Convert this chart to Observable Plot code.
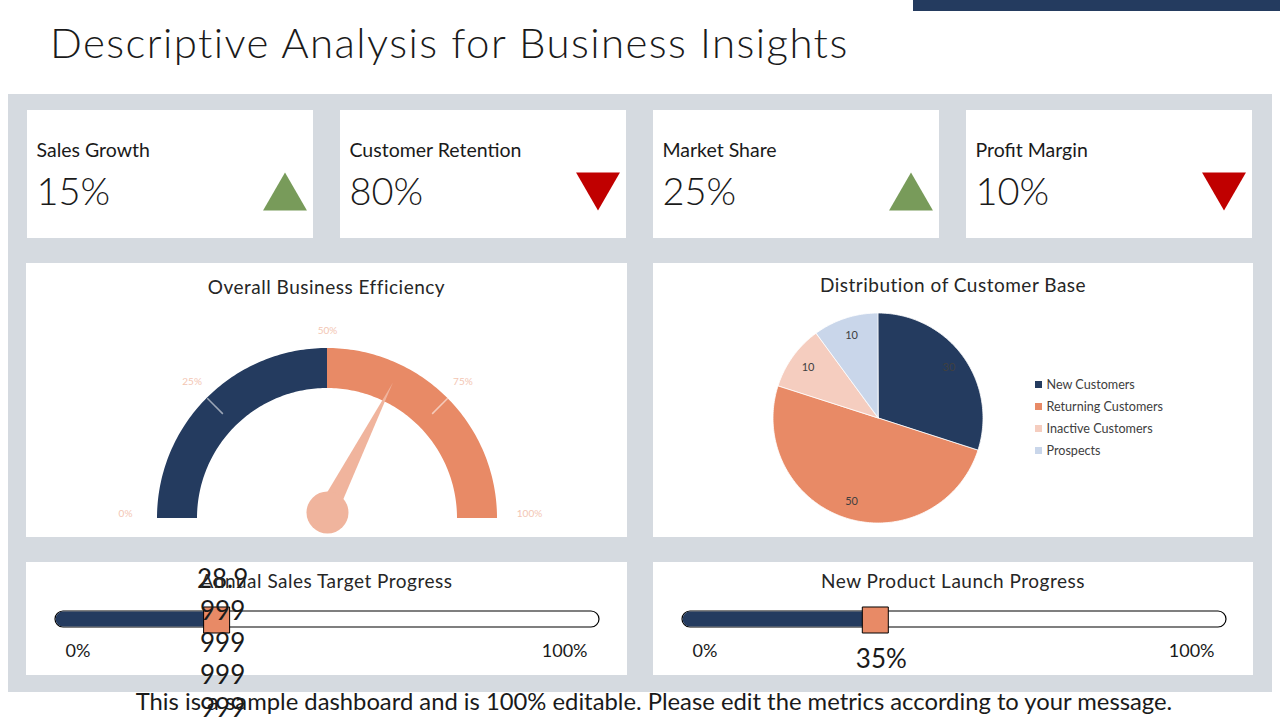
<!DOCTYPE html>
<html lang="en">
<head>
<meta charset="utf-8">
<title>Descriptive Analysis for Business Insights</title>
<script src="https://cdn.jsdelivr.net/npm/d3@7"></script>
<script src="https://cdn.jsdelivr.net/npm/@observablehq/plot@0.6"></script>
<style>
  html, body { margin: 0; padding: 0; }
  body { position: relative; width: 1280px; height: 720px; overflow: hidden; background: #fff;
         font-family: Lato, "Open Sans", sans-serif; color: #1a1a1a; }
  .abs { position: absolute; }
  #topbar { left: 913px; top: 0; width: 367px; height: 11px; background: #243b5f; }
  #title { left: 50px; top: 21px; font-size: 42px; line-height: 1; white-space: nowrap; font-weight: 300;
           letter-spacing: 1.4px; }
  #board { left: 8px; top: 94px; width: 1264px; height: 598px; background: #d5dae0; }
  .ptitle { font-size: 19px; line-height: 1; text-align: center; color: #262626; white-space: nowrap;
            letter-spacing: 0.5px; }
  #footer { font-size: 23.8px; line-height: 1; text-align: center; white-space: nowrap; }
  svg { overflow: visible; }
</style>
</head>
<body>
<div id="topbar" class="abs"></div>
<div id="title" class="abs">Descriptive Analysis for Business Insights</div>
<div id="board" class="abs"></div>
<script>
// ---- KPI tiles ----
const kpiNames = ["Sales Growth", "Customer Retention", "Market Share", "Profit Margin"];
const kpiValues = [15, 80, 25, 10];
const kpiTrends = ["up", "down", "up", "down"];

// ---- Efficiency gauge ----
const gaugeBands = ["Lower half", "Upper half"];
const gaugeBandStart = [0, 50];
const gaugeBandEnd = [50, 100];
const gaugeTicks = [0, 25, 50, 75, 100];
const gaugeDividers = [25, 75];
const efficiency = 65;

// ---- Customer base ----
const segments = ["New Customers", "Returning Customers", "Inactive Customers", "Prospects"];
const segmentCounts = [30, 50, 10, 10];

// ---- Progress bars ----
const progressTitles = ["Annual Sales Target Progress", "New Product Launch Progress"];
const progressValues = [28.999999999999996, 35];
const progressLabels = ["28.999999999999996", "35%"];
const progressEnds = [0, 100];

// palette
const NAVY = "#243b5f", ORANGE = "#e88a66", PEACH = "#f5cdbf", SKY = "#c9d6ea";
const NEEDLE = "#f0b49d", GREEN = "#789b5a", RED = "#c00000";
const INK = "#1a1a1a", LABEL = "#404040", TICK = "#f3c6b3";
const FONT = "Lato, 'Open Sans', sans-serif";
const baseStyle = {fontFamily: FONT, background: "#fff", overflow: "visible", color: INK};

function place(el, left, top) {
  el.style.position = "absolute";
  el.style.left = left + "px";
  el.style.top = top + "px";
  document.body.appendChild(el);
  return el;
}
function caption(text, left, top, width, cls) {
  const div = document.createElement("div");
  div.className = "abs " + cls;
  div.textContent = text;
  div.style.left = left + "px";
  div.style.top = top + "px";
  if (width) div.style.width = width + "px";
  document.body.appendChild(div);
  return div;
}

// ---- KPI tiles: name, value and trend arrow ----
const tileLefts = [27, 340, 653, 966];
kpiNames.forEach((name, i) => {
  const tile = [{name, value: kpiValues[i], trend: kpiTrends[i]}];
  const up = kpiTrends[i] === "up";
  const svg = Plot.plot({
    width: 286, height: 128, margin: 0, style: baseStyle,
    marks: [
      Plot.text(tile, {text: "name", frameAnchor: "top-left", textAnchor: "start", lineAnchor: "top",
                       dx: 9, dy: 33, fontSize: 19.5, fill: INK, letterSpacing: "0.45px"}),
      Plot.text(tile, {text: d => `${d.value}%`, frameAnchor: "top-left", textAnchor: "start", lineAnchor: "top",
                       dx: 9, dy: 68, fontSize: 38, fontWeight: 300, fill: INK}),
      Plot.dot(tile, {frameAnchor: "top-left", dx: 257.5, dy: up ? 87.4 : 74.7, symbol: "triangle",
                      r: 16.3, rotate: up ? 0 : 180, fill: up ? GREEN : RED})
    ]
  });
  place(svg, tileLefts[i], 110);
});

// ---- Gauge: half-doughnut dial with needle ----
{
  const W = 601, H = 274, cx = 301, cy = 255;
  const R = 170, r = 130;
  const theta = v => Math.PI * (1 - v / 100);
  const polar = (v, rad) => [rad * Math.cos(theta(v)), rad * Math.sin(theta(v))];
  const bandRows = gaugeBands.flatMap((band, i) => d3.range(0, 91).map(k => {
    const v = gaugeBandStart[i] + (gaugeBandEnd[i] - gaugeBandStart[i]) * k / 90;
    const [ox, oy] = polar(v, R), [ix, iy] = polar(v, r);
    return {band, ox, oy, ix, iy};
  }));
  const hub = [0, 6], len = 145, half = 10, t = theta(efficiency);
  const needle = [
    {x: hub[0] - half * Math.sin(t), y: hub[1] + half * Math.cos(t)},
    {x: hub[0] + len * Math.cos(t), y: hub[1] + len * Math.sin(t)},
    {x: hub[0] + half * Math.sin(t), y: hub[1] - half * Math.cos(t)}
  ];
  // tick labels sit a little further out (and slightly raised) towards the ends of the dial
  const flat = v => Math.cos(theta(v)) ** 4;
  const labelX = v => (188 + 14 * flat(v)) * Math.cos(theta(v));
  const labelY = v => (188 + 14 * flat(v)) * Math.sin(theta(v)) + 5 * flat(v);
  const svg = Plot.plot({
    width: W, height: H, margin: 0, style: baseStyle,
    x: {domain: [-cx, W - cx], range: [0, W], axis: null},
    y: {domain: [cy - H, cy], range: [H, 0], axis: null},
    color: {domain: gaugeBands, range: [NAVY, ORANGE]},
    marks: [
      Plot.area(bandRows, {x1: "ox", y1: "oy", x2: "ix", y2: "iy", z: "band", fill: "band"}),
      Plot.link(gaugeDividers, {x1: v => polar(v, 148)[0], y1: v => polar(v, 148)[1],
                                x2: v => polar(v, R)[0], y2: v => polar(v, R)[1],
                                stroke: "#fff", strokeOpacity: 0.55, strokeWidth: 1.5}),
      Plot.text(gaugeTicks, {x: labelX, y: labelY, text: v => `${v}%`, fill: TICK, fontSize: 10}),
      Plot.area(needle, {x1: "x", y1: "y", x2: () => hub[0], y2: () => hub[1], fill: NEEDLE}),
      Plot.dot([efficiency], {x: () => hub[0], y: () => hub[1], r: 21, fill: NEEDLE})
    ]
  });
  place(svg, 26, 263);
  caption("Overall Business Efficiency", 26, 277, W, "ptitle");
}

// ---- Pie: distribution of customer base ----
{
  const W = 600, H = 274, cx = 225, cy = 155, PR = 105, LR = 87;
  const arcs = d3.pie().sort(null)(segmentCounts);
  const sliceRows = arcs.flatMap((a, i) => {
    const n = Math.max(2, Math.ceil((a.endAngle - a.startAngle) / (Math.PI / 180)));
    return d3.range(n + 1).map(k => {
      const ang = a.startAngle + (a.endAngle - a.startAngle) * k / n;
      return {segment: segments[i], x: PR * Math.sin(ang), y: PR * Math.cos(ang)};
    });
  });
  const mid = a => (a.startAngle + a.endAngle) / 2;
  const legendY = (d, i) => 34 - 22 * i;
  const svg = Plot.plot({
    width: W, height: H, margin: 0, style: baseStyle,
    x: {domain: [-cx, W - cx], range: [0, W], axis: null},
    y: {domain: [cy - H, cy], range: [H, 0], axis: null},
    color: {domain: segments, range: [NAVY, ORANGE, PEACH, SKY]},
    marks: [
      Plot.area(sliceRows, {x1: "x", y1: "y", x2: () => 0, y2: () => 0, z: "segment", fill: "segment",
                            stroke: "#fff", strokeWidth: 0.8}),
      Plot.text(arcs, {x: a => LR * Math.sin(mid(a)), y: a => LR * Math.cos(mid(a)),
                       text: a => String(a.value), fill: LABEL, fontSize: 11}),
      Plot.dot(segments, {x: () => 160, y: legendY, symbol: "square", r: 3.95, fill: d => d}),
      Plot.text(segments, {x: () => 168, y: legendY, text: d => d, textAnchor: "start",
                           fill: LABEL, fontSize: 12.6})
    ]
  });
  place(svg, 653, 263);
  caption("Distribution of Customer Base", 653, 275, W, "ptitle");
}

// footer note
const footer = caption("This is a sample dashboard and is 100% editable. Please edit the metrics according to your message.",
                       14, 690, 1280, "");
footer.id = "footer";

// ---- Progress bars ----
// The value label sits in a narrow box (about 2em wide); longer strings break across lines.
const glyphWidth = c => c === "." ? 0.28 : c === "%" ? 0.8 : 0.55;
function wrapNarrow(text, box = 2.0) {
  const lines = [];
  let line = "", w = 0;
  for (const c of text) {
    const g = glyphWidth(c);
    if (line && w + g > box) { lines.push(line); line = ""; w = 0; }
    line += c; w += g;
  }
  if (line) lines.push(line);
  return lines.join("\n");
}
const progressLefts = [26, 653];
progressTitles.forEach((title, i) => {
  const W = i ? 600 : 601, H = 113;
  const row = [{title, value: progressValues[i], label: wrapNarrow(progressLabels[i])}];
  const svg = Plot.plot({
    width: W, height: H, margin: 0, style: baseStyle,
    x: {domain: [0, 100], range: [37, 565], axis: null},
    y: {domain: [0, H], range: [0, H], axis: null},
    marks: [
      Plot.rect(row, {x1: () => progressEnds[0], x2: () => progressEnds[1], y1: () => 49, y2: () => 65,
                      insetLeft: -8, insetRight: -8, rx: 8, fill: "#fff", stroke: "#000", strokeWidth: 1.2}),
      Plot.rect(row, {x1: () => progressEnds[0], x2: "value", y1: () => 49.6, y2: () => 64.4,
                      insetLeft: -7.4, rx: 7.4, fill: NAVY}),
      Plot.dot(row, {x: "value", y: () => 57.5, symbol: "square", r: 14.67, fill: ORANGE,
                     stroke: "#000", strokeWidth: 1}),
      Plot.text([progressEnds[0]], {x: d => d, y: () => 89, dx: 2, text: d => `${d}%`, textAnchor: "start",
                                    fontSize: 18, fill: INK}),
      Plot.text([progressEnds[1]], {x: d => d, y: () => 89, dx: -4, text: d => `${d}%`, textAnchor: "end",
                                    fontSize: 18, fill: INK}),
      Plot.text(row, {x: "value", y: () => 95.5, dx: 6, text: "label", lineAnchor: "middle",
                      lineHeight: 1.24, fontSize: 26, fill: INK})
    ]
  });
  place(svg, progressLefts[i], 562);
  caption(title, progressLefts[i], 571, W, "ptitle");
});
</script>
</body>
</html>
